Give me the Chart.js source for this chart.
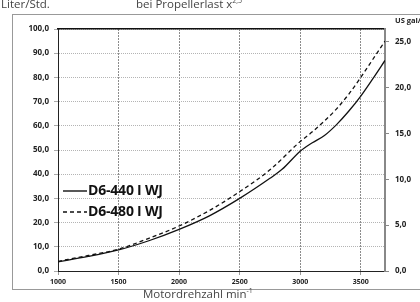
<!DOCTYPE html>
<html>
<head>
<meta charset="utf-8">
<script src="https://cdn.jsdelivr.net/npm/chart.js@4.4.0/dist/chart.umd.min.js"></script>
<style>
  html, body { margin: 0; padding: 0; background: #fff; }
  #wrap { position: relative; width: 420px; height: 302px; overflow: hidden; }
  #frame { position: absolute; left: 12px; top: 14px; width: 430px; height: 276px; border: 1px solid #999; box-sizing: border-box; }
  canvas { position: absolute; left: 0; top: 0; }
  .txt { position: absolute; font-family: "Open Sans", sans-serif; color: #444; white-space: nowrap; }
  .legend { position: absolute; left: 63px; font-family: "Open Sans", sans-serif; font-weight: bold; font-size: 14px; color: #111; white-space: nowrap; letter-spacing: -0.2px; }
  .legend svg { vertical-align: middle; margin-right: 1px; }
  sup { font-size: 7px; }
</style>
</head>
<body>
<div id="wrap">
  <div id="frame"></div>
  <canvas id="fuel-canvas" width="420" height="302"></canvas>
  <div class="txt" style="left:1px; top:-4px; font-size:11.5px;">Liter/Std.</div>
  <div class="txt" style="left:136px; top:-4px; font-size:11.5px;">bei Propellerlast x<sup>2,5</sup></div>
  <div class="txt" style="left:395px; top:15px; font-size:7.5px; font-weight:bold; color:#222;">US gal/</div>
  <div class="txt" style="left:143px; top:286px; font-size:11.5px;">Motordrehzahl min<sup>-1</sup></div>
  <div class="legend" style="top:180px;"><svg width="24" height="4"><line x1="0" y1="2" x2="24" y2="2" stroke="#111" stroke-width="1.4"/></svg>D6-440 I WJ</div>
  <div class="legend" style="top:201px;"><svg width="24" height="4"><line x1="0" y1="2" x2="24" y2="2" stroke="#111" stroke-width="1.4" stroke-dasharray="4,3"/></svg>D6-480 I WJ</div>
</div>
<script>
// engine speed (min-1) and fuel consumption (Liter/Std.)
var rpm_440 = [1000, 1250, 1500, 1750, 2000, 2250, 2500, 2750, 2850, 3000, 3100, 3200, 3300, 3400, 3500, 3600, 3700];
var fuel_440 = [3.8, 6.0, 8.7, 12.5, 17.2, 22.8, 30.0, 38.3, 42.0, 49.5, 53.0, 56.0, 60.5, 66.0, 72.3, 79.5, 87.0];
var rpm_480 = [1000, 1250, 1500, 1750, 2000, 2250, 2500, 2750, 3000, 3100, 3200, 3300, 3400, 3500, 3600, 3700];
var fuel_480 = [4.0, 6.4, 9.0, 13.5, 18.6, 25.0, 32.8, 41.8, 53.5, 57.5, 62.0, 67.0, 73.0, 80.0, 87.5, 95.0];
var rpm_ticks = [1000, 1500, 2000, 2500, 3000, 3500];
var liter_per_gal = 3.78541;

function toPoints(xs, ys) {
    var pts = [];
    for (var i = 0; i < xs.length; i++) pts.push({x: xs[i], y: ys[i]});
    return pts;
}
function comma(v) { return v.toFixed(1).replace('.', ','); }

var tickFont = {family: 'Open Sans', weight: 'bold', size: 8};

var ctx = document.getElementById('fuel-canvas').getContext('2d');
var chart_fuel = new Chart(ctx, {
    type: 'line',
    data: {
        datasets: [{
            label: 'D6-440 I WJ',
            data: toPoints(rpm_440, fuel_440),
            borderColor: '#111',
            borderWidth: 1.3,
            pointRadius: 0,
            cubicInterpolationMode: 'monotone'
        }, {
            label: 'D6-480 I WJ',
            data: toPoints(rpm_480, fuel_480),
            borderColor: '#111',
            borderWidth: 1.3,
            borderDash: [4, 3],
            pointRadius: 0,
            cubicInterpolationMode: 'monotone'
        }]
    },
    options: {
        responsive: false,
        animation: false,
        layout: {padding: {top: 29, left: 0, right: 0, bottom: 0}},
        plugins: {legend: {display: false}, tooltip: {enabled: false}},
        scales: {
            x: {
                type: 'linear', min: 1000, max: 3700,
                afterBuildTicks: function (s) { s.ticks = rpm_ticks.map(function (v) { return {value: v}; }); },
                afterFit: function (s) { s.height = 31; },
                ticks: {autoSkip: false, color: '#222', font: {family: 'Open Sans', weight: 'bold', size: 7}, padding: 3, maxRotation: 0,
                        callback: function (v) { return String(v); }},
                grid: {color: '#8c8c8c', tickLength: 4, tickColor: '#999'},
                border: {color: '#222', width: 1, dash: [2, 1]}
            },
            x2: {
                type: 'linear', position: 'top', min: 1000, max: 3700,
                afterFit: function (s) { s.height = 0; },
                ticks: {display: false},
                grid: {display: false},
                border: {color: '#111', width: 1.5}
            },
            y: {
                position: 'left', min: 0, max: 100,
                afterFit: function (s) { s.width = 58; },
                ticks: {stepSize: 10, color: '#222', font: tickFont, padding: 5, callback: function (v) { return comma(v); }},
                grid: {color: '#b4b4b4', tickLength: 4, tickColor: '#aaa'},
                border: {color: '#222', width: 1, dash: [1, 1]}
            },
            y1: {
                position: 'right', min: 0, max: 100 / liter_per_gal,
                afterBuildTicks: function (s) { s.ticks = s.ticks.filter(function (t) { return t.value % 5 === 0; }); },
                afterFit: function (s) { s.width = 35; },
                ticks: {stepSize: 5, color: '#222', font: tickFont, padding: 6, callback: function (v) { return comma(v); }},
                grid: {drawOnChartArea: false, tickLength: 4, color: '#888'},
                border: {color: '#888', width: 2}
            }
        }
    }
});
</script>
</body>
</html>
